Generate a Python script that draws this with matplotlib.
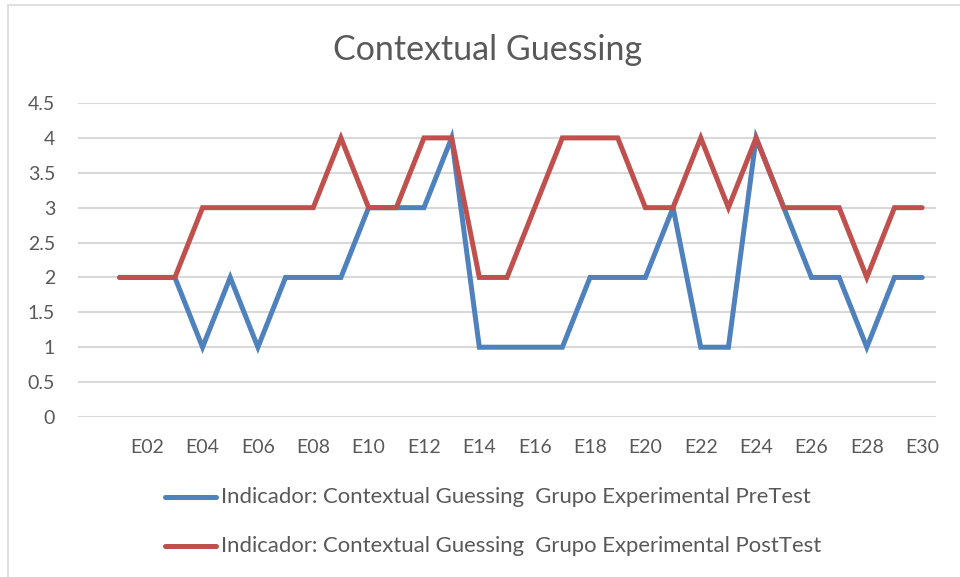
import matplotlib
matplotlib.use("Agg")
import matplotlib.pyplot as plt
from matplotlib.lines import Line2D

categories = [""] + ["E%02d" % i for i in range(1, 31)]
pretest = [2, 2, 2, 1, 2, 1, 2, 2, 2, 3, 3, 3, 4, 1, 1, 1, 1, 2, 2, 2, 3, 1, 1, 4, 3, 2, 2, 1, 2, 2]
posttest = [2, 2, 2, 3, 3, 3, 3, 3, 4, 3, 3, 4, 4, 2, 2, 3, 4, 4, 4, 3, 3, 4, 3, 4, 3, 3, 3, 2, 3, 3]
yticks = [0, 0.5, 1, 1.5, 2, 2.5, 3, 3.5, 4, 4.5]
title = "Contextual Guessing"
labels = ["Indicador: Contextual Guessing  Grupo Experimental PreTest",
          "Indicador: Contextual Guessing  Grupo Experimental PostTest"]

plt.rcParams['font.family'] = ['Lato', 'DejaVu Sans']
gray = "#595959"
blue = "#4F81BD"
red = "#C0504D"

W, H = 960, 577
fig = plt.figure(figsize=(W / 100, H / 100), dpi=100)
ax = fig.add_axes([78 / W, 1 - 417 / H, (936 - 78) / W, (417 - 103) / H])

x = list(range(1, 31))
ax.plot(x, pretest, color=blue, lw=3.6, solid_capstyle='round', solid_joinstyle='miter', zorder=3)
ax.plot(x, posttest, color=red, lw=3.6, solid_capstyle='round', solid_joinstyle='miter', zorder=4)

ax.set_xlim(-0.5, 30.5)
ax.set_ylim(0, 4.5)
ax.set_yticks(yticks)
ax.set_yticklabels([("%g" % v) for v in yticks], color=gray, fontsize=14)
ax.set_xticks(list(range(2, 31, 2)))
ax.set_xticklabels([categories[i] for i in range(2, 31, 2)], color=gray, fontsize=14)
ax.tick_params(axis='x', length=0, pad=15.5)
ax.tick_params(axis='y', length=0, pad=16.5)
for s in ax.spines.values():
    s.set_visible(False)
ax.grid(axis='y', color="#D9D9D9", lw=1.5)
ax.set_axisbelow(True)

fig.text(488 / W, 1 - 50 / H, title, ha='center', va='center', fontsize=24.5, color=gray)

# legend
for i, (lab, col) in enumerate(zip(labels, [blue, red])):
    yy = 1 - (497 + 49 * i) / H
    fig.add_artist(Line2D([165 / W, 216 / W], [yy, yy], color=col, lw=3.6, solid_capstyle='round',
                          transform=fig.transFigure))
    fig.text(221 / W, yy, lab, ha='left', va='center', fontsize=15.9, color=gray)

# chart frame
fig.add_artist(Line2D([8 / W, 8 / W], [0, 1 - 5 / H], color="#D9D9D9", lw=1.2, transform=fig.transFigure))
fig.add_artist(Line2D([8 / W, 1], [1 - 5 / H, 1 - 5 / H], color="#D9D9D9", lw=1.2, transform=fig.transFigure))

fig.savefig("out.png", dpi=100)
